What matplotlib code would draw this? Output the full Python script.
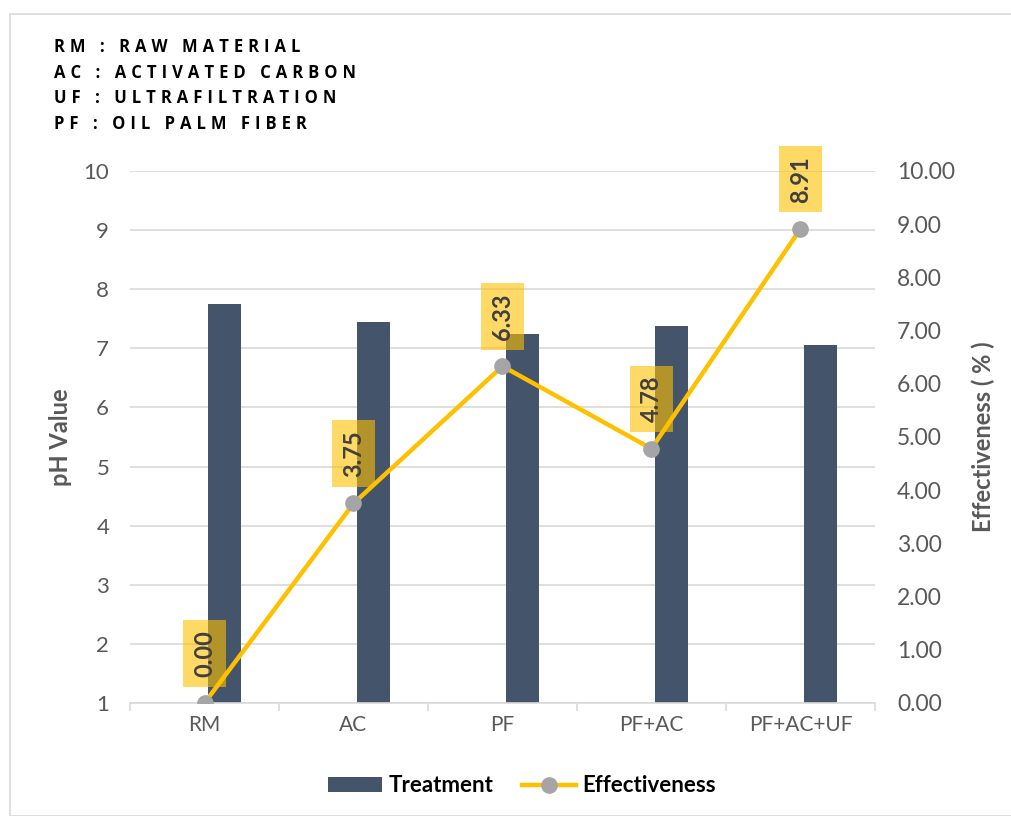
import matplotlib.pyplot as plt
import numpy as np
from matplotlib.patches import Rectangle
from matplotlib.lines import Line2D
from matplotlib.patches import Patch

plt.rcParams['font.family'] = ['Lato', 'DejaVu Sans']

categories = ["RM", "AC", "PF", "PF+AC", "PF+AC+UF"]
ph_values = [7.75, 7.45, 7.25, 7.37, 7.05]
effectiveness = [0.00, 3.75, 6.33, 4.78, 8.91]
notes = ["RM : RAW MATERIAL", "AC : ACTIVATED CARBON",
         "UF : ULTRAFILTRATION", "PF : OIL PALM FIBER"]

bar_color = "#44546A"
line_color = "#FFC000"
grid_color = "#D9D9D9"
tick_color = "#595959"

fig = plt.figure(figsize=(10.12, 8.16), dpi=100)
ax = fig.add_axes([0.1285, 0.1385, 0.736, 0.652])
ax2 = ax.twinx()

x = np.arange(len(categories))
ax.bar(x + 0.135, ph_values, width=0.22, bottom=0, color=bar_color, zorder=2)
ax.set_ylim(1, 10)
ax.set_xlim(-0.5, len(categories) - 0.5)
ax.set_yticks(np.arange(1, 11))
ax.yaxis.grid(True, color=grid_color, linewidth=1.2, zorder=0)
ax.set_axisbelow(True)
ax.set_xticks(x)
ax.set_xticklabels(categories)
ax.set_xticks(np.arange(-0.5, len(categories)), minor=True)
ax.tick_params(axis='x', which='major', length=0, pad=9, labelsize=15, labelcolor=tick_color)
ax.tick_params(axis='x', which='minor', length=6, color=grid_color, width=1.2)
ax.tick_params(axis='y', length=0, pad=15, labelsize=16, labelcolor=tick_color)
for s in ["top", "left", "right"]:
    ax.spines[s].set_visible(False)
ax.spines["bottom"].set_color(grid_color)
ax.spines["bottom"].set_linewidth(1.2)
ax.set_ylabel("pH Value", fontsize=17, fontweight='bold', color=tick_color, labelpad=8)

ax2.plot(x, effectiveness, color=line_color, linewidth=3.2, marker='o',
         markersize=11, markerfacecolor="#A5A5A5", markeredgecolor="#A5A5A5",
         zorder=3, solid_capstyle='round')
ax2.set_ylim(0, 10)
ax2.set_yticks(np.arange(0, 11))
ax2.set_yticklabels([f"{v:.2f}" for v in np.arange(0, 11)])
ax2.tick_params(axis='y', length=0, pad=16, labelsize=16.5, labelcolor=tick_color)
for s in ["top", "left", "right", "bottom"]:
    ax2.spines[s].set_visible(False)
ax2.set_ylabel("Effectiveness ( % )", fontsize=17, fontweight='bold',
               color=tick_color, labelpad=12)

# value labels in translucent boxes above each point
for xi, v in zip(x, effectiveness):
    ax2.annotate(f"{v:.2f}", (xi, v), xytext=(0, 19), textcoords='offset points',
                 rotation=90, ha='center', va='bottom', fontsize=17,
                 fontweight='bold', color="#404040", zorder=5,
                 bbox=dict(boxstyle='square,pad=0.42', fc=(1, 0.753, 0, 0.6), ec='none'))

for i, line in enumerate(notes):
    fig.text(54 / 1012, 1 - (47 + 25.7 * i) / 816, "\u2009\u200a".join(line),
             fontsize=12, fontweight='bold', family=['Open Sans', 'DejaVu Sans'],
             color="#000000", va='center', ha='left')

handles = [Patch(facecolor=bar_color, label="Treatment"),
           Line2D([0], [0], color=line_color, linewidth=3.2, marker='o', markersize=11,
                  markerfacecolor="#A5A5A5", markeredgecolor="#A5A5A5", label="Effectiveness")]
fig.legend(handles=handles, loc='center', bbox_to_anchor=(0.516, 0.037), ncol=2,
           frameon=False, prop={'weight': 'bold', 'size': 16}, columnspacing=1.3,
           handlelength=2.4, handletextpad=0.3)

fig.add_artist(Rectangle((10 / 1012, 0), 1.2, 1 - 14 / 816, transform=fig.transFigure,
                         fill=False, edgecolor=grid_color, linewidth=1.2))

fig.savefig("out.png", dpi=100)
